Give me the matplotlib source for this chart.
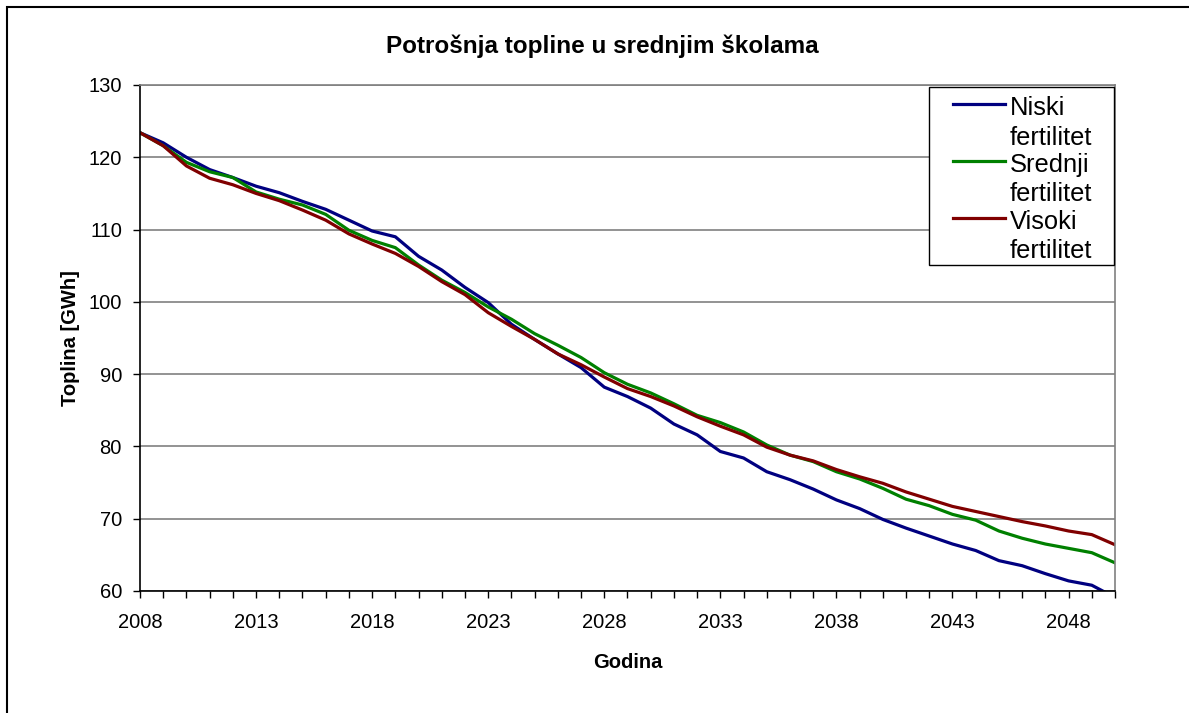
import numpy as np
import matplotlib
matplotlib.use("Agg")
import matplotlib.pyplot as plt
from matplotlib.legend_handler import HandlerLine2D
from matplotlib.patches import Rectangle

plt.rcParams['font.family'] = ['Liberation Sans', 'DejaVu Sans']

# Data
years = list(range(2008, 2051))
niski = [123.4, 122.0, 120.0, 118.3, 117.2, 116.0, 115.1, 113.9, 112.8, 111.3,
         109.8, 109.0, 106.3, 104.4, 102.0, 99.9, 96.9, 94.8, 92.8, 90.9,
         88.2, 86.9, 85.3, 83.1, 81.6, 79.3, 78.4, 76.5, 75.4, 74.1,
         72.6, 71.4, 69.9, 68.7, 67.6, 66.5, 65.6, 64.2, 63.5, 62.4,
         61.4, 60.8, 59.1]
srednji = [123.4, 121.6, 119.3, 118.0, 117.2, 115.2, 114.2, 113.4, 112.1, 109.9,
           108.5, 107.5, 105.1, 103.0, 101.3, 99.3, 97.6, 95.6, 94.0, 92.3,
           90.2, 88.6, 87.4, 85.9, 84.3, 83.3, 82.0, 80.2, 78.8, 77.9,
           76.5, 75.5, 74.2, 72.7, 71.8, 70.6, 69.8, 68.3, 67.3, 66.5,
           65.9, 65.3, 63.9]
visoki = [123.4, 121.6, 118.8, 117.1, 116.2, 115.0, 114.0, 112.7, 111.3, 109.4,
          108.0, 106.7, 104.9, 102.8, 101.0, 98.5, 96.6, 94.8, 92.8, 91.3,
          89.6, 88.0, 86.9, 85.6, 84.1, 82.8, 81.6, 79.9, 78.8, 78.0,
          76.8, 75.8, 74.9, 73.7, 72.7, 71.7, 71.0, 70.3, 69.6, 69.0,
          68.3, 67.8, 66.4]
labels = ['Niski\nfertilitet', 'Srednji\nfertilitet', 'Visoki\nfertilitet']
colors = ['#000080', '#008000', '#800000']
y_ticks = list(range(60, 131, 10))

W, H = 1189, 713


# legend handle: leave room on the left and sit on the first text line
class TopHandler(HandlerLine2D):
    def create_artists(self, legend, orig_handle, xdescent, ydescent,
                       width, height, fontsize, trans):
        arts = super().create_artists(legend, orig_handle, xdescent, ydescent,
                                      width, height, fontsize, trans)
        for a in arts:
            x = np.asarray(a.get_xdata(), dtype=float)
            y = np.asarray(a.get_ydata(), dtype=float)
            if len(x) > 1:
                a.set_xdata(np.linspace(x[0] + 0.69 * fontsize, x[-1], len(x)))
            a.set_ydata(y + 0.75 * fontsize)
        return arts


fig = plt.figure(figsize=(W / 100, H / 100), dpi=100)
ax = fig.add_axes([140 / W, 1 - 591 / H, 975 / W, 506 / H])

for vals, lab, col in zip([niski, srednji, visoki], labels, colors):
    ax.plot(years, vals, color=col, lw=2.3, label=lab)

ax.set_xlim(2008, 2050)
ax.set_ylim(60, 130)
ax.set_yticks(y_ticks)
ax.set_xticks(years)
ax.set_xticklabels([str(y) if (y - 2008) % 5 == 0 else '' for y in years])
ax.tick_params(axis='both', labelsize=14.5, length=5, width=1, color='black')
ax.tick_params(axis='x', pad=11)
ax.tick_params(axis='y', pad=8)
ax.yaxis.grid(True, color='#808080', lw=1.2)
ax.set_axisbelow(True)

for s in ['left', 'bottom']:
    ax.spines[s].set_color('black')
    ax.spines[s].set_linewidth(1.2)
for s in ['top', 'right']:
    ax.spines[s].set_color('#808080')
    ax.spines[s].set_linewidth(1.2)

ax.set_xlabel('Godina', fontsize=14.5, fontweight='bold', labelpad=15)
ax.set_ylabel('Toplina [GWh]', fontsize=14.5, fontweight='bold', labelpad=6)
fig.text(602 / W, 1 - 46 / H, 'Potrošnja topline u srednjim školama',
         fontsize=17.5, fontweight='bold', ha='center', va='center')

# legend box drawn separately so its padding matches the reference
ax.add_patch(Rectangle((929 / W, 1 - 265 / H), 185 / W, 178 / H,
                       transform=fig.transFigure, facecolor='white',
                       edgecolor='black', lw=1.0, zorder=4, clip_on=False))
leg = ax.legend(loc='upper left', bbox_to_anchor=(929 / W, 1 - 90 / H),
                bbox_transform=fig.transFigure, fontsize=18.4, frameon=False,
                handlelength=2.72, handletextpad=0.2, borderpad=0.25,
                labelspacing=0.13, borderaxespad=0,
                handler_map={matplotlib.lines.Line2D: TopHandler()})
leg.set_zorder(5)
for t in leg.get_texts():
    t.set_linespacing(1.28)

# outer chart border (only top and left visible in the reference)
fig.patches.append(Rectangle((7 / W, -0.1), 1.2, 1.1 - 7 / H,
                             transform=fig.transFigure, fill=False,
                             edgecolor='black', lw=1.5))

fig.savefig('out.png', dpi=100)
